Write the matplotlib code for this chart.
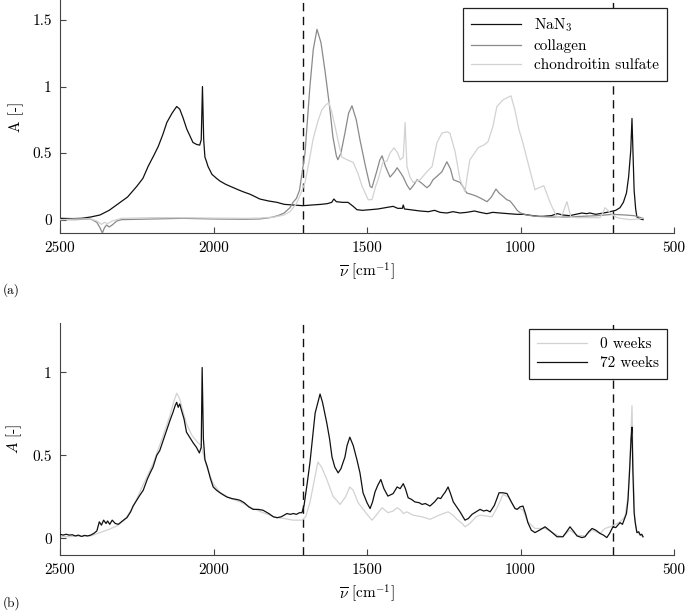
import matplotlib
matplotlib.use('Agg')
import matplotlib.pyplot as plt

# ---- panel (a): reference spectra ----
nan3_wn = [2500, 2460, 2430, 2400, 2370, 2340, 2310, 2280, 2250, 2230, 2213, 2195, 2180, 2165,
           2152, 2135, 2120, 2110, 2100, 2087, 2075, 2067, 2055, 2045, 2040, 2036, 2032, 2028,
           2022, 2018, 2005, 1990, 1979, 1960, 1940, 1920, 1904, 1880, 1849, 1820, 1793, 1770,
           1740, 1709, 1680, 1650, 1630, 1615, 1608, 1600, 1580, 1562, 1545, 1533, 1515, 1490,
           1465, 1440, 1415, 1400, 1385, 1382, 1378, 1360, 1327, 1300, 1280, 1262, 1240, 1220,
           1197, 1175, 1150, 1132, 1110, 1090, 1067, 1040, 1011, 990, 960, 940, 927, 900, 880,
           862, 840, 820, 800, 785, 774, 755, 730, 708, 690, 676, 665, 655, 648, 641, 637, 633,
           630, 625, 621, 610, 601]
nan3_a = [0.01, 0.008, 0.01, 0.02, 0.035, 0.07, 0.12, 0.17, 0.25, 0.31, 0.40, 0.48, 0.55, 0.64,
          0.73, 0.80, 0.85, 0.83, 0.77, 0.68, 0.62, 0.58, 0.565, 0.56, 0.60, 1.00, 0.60, 0.47,
          0.43, 0.40, 0.34, 0.31, 0.29, 0.265, 0.245, 0.225, 0.21, 0.19, 0.155, 0.14, 0.13, 0.115,
          0.11, 0.105, 0.11, 0.115, 0.12, 0.13, 0.155, 0.135, 0.13, 0.13, 0.10, 0.075, 0.07, 0.075,
          0.08, 0.09, 0.10, 0.085, 0.085, 0.11, 0.08, 0.075, 0.065, 0.06, 0.07, 0.055, 0.05, 0.06,
          0.05, 0.055, 0.065, 0.055, 0.045, 0.055, 0.05, 0.045, 0.04, 0.04, 0.03, 0.025, 0.025, 0.03, 0.045,
          0.035, 0.03, 0.04, 0.05, 0.045, 0.05, 0.04, 0.05, 0.06, 0.07, 0.09, 0.13, 0.20, 0.32, 0.52, 0.76, 0.45,
          0.22, 0.08, 0.02, 0.005, 0.0]

coll_wn = [2500, 2450, 2400, 2380, 2370, 2362, 2355, 2348, 2340, 2330, 2315, 2300, 2200, 2100,
           2000, 1900, 1850, 1816, 1790, 1770, 1751, 1741, 1730, 1720, 1702, 1686, 1675, 1663,
           1650, 1637, 1622, 1611, 1600, 1595, 1585, 1572, 1560, 1549, 1535, 1523, 1505, 1490,
           1484, 1470, 1458, 1451, 1440, 1425, 1410, 1402, 1390, 1382, 1370, 1360, 1348, 1337,
           1320, 1305, 1295, 1285, 1270, 1256, 1240, 1228, 1219, 1197, 1185, 1175, 1160, 1142,
           1125, 1109, 1095, 1080, 1070, 1057, 1045, 1034, 1020, 1011, 1000, 980, 950, 900, 850,
           800, 750, 700, 660, 630, 615, 601]
coll_a = [0.0, 0.0, 0.005, -0.02, -0.06, -0.10, -0.06, -0.04, -0.055, -0.04, -0.01, 0.0, 0.005, 0.01,
          0.005, 0.003, 0.005, 0.015, 0.03, 0.05, 0.09, 0.13, 0.16, 0.22, 0.50, 1.0, 1.28, 1.43,
          1.33, 1.12, 0.85, 0.62, 0.48, 0.45, 0.50, 0.65, 0.80, 0.855, 0.75, 0.60, 0.40, 0.25,
          0.24, 0.35, 0.45, 0.48, 0.40, 0.32, 0.36, 0.39, 0.35, 0.32, 0.26, 0.225, 0.26, 0.30,
          0.27, 0.24, 0.26, 0.30, 0.33, 0.36, 0.435, 0.38, 0.30, 0.28, 0.24, 0.20, 0.19, 0.175,
          0.155, 0.135, 0.17, 0.23, 0.20, 0.175, 0.15, 0.14, 0.10, 0.07, 0.05, 0.035, 0.025, 0.02, 0.02,
          0.025, 0.03, 0.04, 0.035, 0.03, 0.02, 0.01]

chon_wn = [2500, 2450, 2400, 2380, 2365, 2355, 2345, 2330, 2300, 2200, 2100, 2000, 1900, 1850,
           1800, 1770, 1751, 1730, 1715, 1702, 1690, 1676, 1660, 1647, 1635, 1624, 1614, 1604,
           1592, 1582, 1565, 1545, 1530, 1516, 1496, 1484, 1472, 1464, 1448, 1435, 1425, 1412,
           1400, 1392, 1382, 1376, 1370, 1360, 1350, 1327, 1305, 1288, 1272, 1256, 1240, 1230,
           1213, 1197, 1181, 1172, 1165, 1150, 1138, 1120, 1106, 1090, 1077, 1057, 1031, 1018,
           1005, 995, 976, 953, 940, 924, 904, 881, 870, 862, 849, 836, 816, 780, 741, 730, 725,
           715, 708, 690, 676, 643, 615, 604]
chon_a = [0.0, 0.005, 0.005, -0.01, -0.035, -0.02, -0.03, -0.01, 0.01, 0.015, 0.015, 0.012, 0.01, 0.012,
          0.02, 0.035, 0.06, 0.12, 0.20, 0.28, 0.42, 0.60, 0.74, 0.825, 0.86, 0.88, 0.80, 0.70,
          0.57, 0.47, 0.45, 0.43, 0.35, 0.25, 0.15, 0.15, 0.25, 0.30, 0.435, 0.44, 0.50, 0.54,
          0.50, 0.45, 0.47, 0.73, 0.40, 0.32, 0.28, 0.30, 0.36, 0.40, 0.58, 0.65, 0.66, 0.65,
          0.51, 0.30, 0.21, 0.35, 0.45, 0.50, 0.54, 0.56, 0.585, 0.70, 0.85, 0.90, 0.93, 0.82,
          0.675, 0.60, 0.43, 0.225, 0.24, 0.255, 0.13, 0.015, 0.02, 0.05, 0.135, 0.02, 0.015, 0.015, 0.015, 0.06, 0.09,
          0.07, 0.05, 0.02, 0.01, 0.0, 0.005, 0.01]

# ---- panel (b): 0 weeks vs 72 weeks ----
w72_wn = [2500, 2490, 2480, 2470, 2460, 2450, 2440, 2430, 2420, 2410, 2400, 2390, 2380, 2372,
          2365, 2358, 2350, 2345, 2338, 2330, 2320, 2310, 2300, 2290, 2282, 2270, 2262, 2250,
          2240, 2229, 2215, 2205, 2197, 2185, 2175, 2164, 2155, 2142, 2132, 2125, 2120, 2115,
          2110, 2104, 2096, 2088, 2078, 2066, 2056, 2046, 2040, 2037, 2033, 2028, 2020, 2010,
          2001, 1990, 1975, 1957, 1940, 1925, 1914, 1900, 1885, 1871, 1855, 1839, 1820, 1805,
          1793, 1780, 1770, 1761, 1750, 1740, 1730, 1720, 1712, 1705, 1695, 1686, 1675, 1669,
          1660, 1653, 1645, 1631, 1622, 1614, 1605, 1594, 1585, 1572, 1565, 1556, 1545, 1533,
          1523, 1513, 1500, 1490, 1482, 1474, 1465, 1455, 1445, 1432, 1415, 1402, 1392, 1382,
          1375, 1366, 1355, 1344, 1330, 1321, 1310, 1295, 1280, 1269, 1260, 1253, 1245, 1236,
          1228, 1219, 1208, 1197, 1181, 1170, 1158, 1145, 1132, 1120, 1110, 1099, 1085, 1070,
          1057, 1044, 1030, 1018, 1011, 1002, 992, 984, 976, 965, 953, 938, 920, 900, 881, 862,
          850, 839, 828, 816, 800, 790, 778, 767, 755, 741, 730, 719, 710, 699, 690, 676, 668,
          660, 655, 650, 645, 640, 637, 634, 630, 626, 621, 615, 610, 605, 601]
w72_a = [0.025, 0.02, 0.025, 0.02, 0.022, 0.015, 0.02, 0.012, 0.018, 0.015, 0.02, 0.03, 0.045, 0.10,
         0.08, 0.11, 0.09, 0.105, 0.085, 0.11, 0.09, 0.085, 0.10, 0.115, 0.125, 0.16, 0.195, 0.23,
         0.26, 0.29, 0.36, 0.40, 0.43, 0.50, 0.53, 0.59, 0.64, 0.71, 0.76, 0.80, 0.82, 0.79,
         0.81, 0.77, 0.72, 0.64, 0.61, 0.575, 0.55, 0.515, 0.55, 1.03, 0.60, 0.475, 0.43, 0.36,
         0.31, 0.29, 0.27, 0.25, 0.24, 0.235, 0.23, 0.215, 0.19, 0.175, 0.175, 0.17, 0.15, 0.13,
         0.125, 0.13, 0.14, 0.15, 0.145, 0.15, 0.145, 0.155, 0.155, 0.20, 0.33, 0.455, 0.65, 0.755,
         0.82, 0.87, 0.82, 0.695, 0.60, 0.49, 0.43, 0.395, 0.42, 0.49, 0.56, 0.61, 0.56, 0.475,
         0.395, 0.275, 0.215, 0.18, 0.22, 0.28, 0.32, 0.355, 0.30, 0.255, 0.27, 0.31, 0.30, 0.33,
         0.30, 0.245, 0.235, 0.22, 0.215, 0.205, 0.21, 0.195, 0.22, 0.245, 0.24, 0.26, 0.28, 0.31,
         0.27, 0.22, 0.19, 0.16, 0.11, 0.12, 0.145, 0.16, 0.175, 0.165, 0.17, 0.16, 0.20, 0.275,
         0.275, 0.27, 0.22, 0.18, 0.175, 0.19, 0.195, 0.15, 0.095, 0.05, 0.035, 0.05, 0.07, 0.04, 0.01, 0.01,
         0.04, 0.07, 0.045, 0.015, 0.005, 0.01, 0.04, 0.06, 0.05, 0.03, 0.02, 0.005, 0.03, 0.07, 0.065, 0.095, 0.085,
         0.125, 0.15, 0.23, 0.40, 0.60, 0.67, 0.40, 0.155, 0.09, 0.035, 0.04, 0.02, 0.025, 0.01]

w0_wn = [2500, 2450, 2400, 2370, 2340, 2315, 2290, 2262, 2230, 2197, 2164, 2142, 2130, 2120,
         2110, 2100, 2088, 2070, 2050, 2040, 2031, 2020, 2001, 1980, 1950, 1914, 1871, 1839,
         1793, 1770, 1741, 1712, 1700, 1686, 1675, 1660, 1648, 1631, 1611, 1588, 1570, 1556,
         1545, 1529, 1500, 1484, 1470, 1451, 1432, 1415, 1402, 1390, 1382, 1370, 1350, 1320,
         1295, 1265, 1236, 1220, 1207, 1190, 1181, 1165, 1145, 1132, 1110, 1093, 1075, 1057,
         1040, 1018, 1002, 992, 976, 953, 920, 900, 881, 862, 840, 816, 790, 767, 741, 725,
         708, 690, 676, 660, 650, 643, 637, 633, 628, 621, 610, 601]
w0_a = [0.01, 0.012, 0.015, 0.035, 0.055, 0.075, 0.11, 0.19, 0.32, 0.45, 0.62, 0.74, 0.82, 0.875,
        0.84, 0.77, 0.69, 0.62, 0.575, 0.56, 0.49, 0.42, 0.33, 0.28, 0.245, 0.22, 0.18, 0.155,
        0.125, 0.12, 0.11, 0.11, 0.13, 0.215, 0.32, 0.46, 0.43, 0.355, 0.255, 0.205, 0.25, 0.31,
        0.29, 0.215, 0.145, 0.11, 0.14, 0.185, 0.155, 0.165, 0.185, 0.17, 0.15, 0.16, 0.14, 0.13,
        0.115, 0.14, 0.16, 0.14, 0.115, 0.09, 0.07, 0.09, 0.13, 0.14, 0.135, 0.13, 0.19, 0.265,
        0.25, 0.18, 0.18, 0.17, 0.10, 0.06, 0.06, 0.04, 0.02, 0.01, 0.05, 0.02, 0.015, 0.05, 0.03, 0.06,
        0.07, 0.085, 0.10, 0.13, 0.25, 0.50, 0.80, 0.45, 0.12, 0.04, 0.02, 0.01]

dashed_wn = [1710, 700]
xticks = [2500, 2000, 1500, 1000, 500]

plt.rcParams['font.family'] = 'serif'
plt.rcParams['font.serif'] = ['cmr10', 'DejaVu Serif']
plt.rcParams['mathtext.fontset'] = 'cm'
plt.rcParams['axes.unicode_minus'] = False
plt.rcParams['axes.formatter.use_mathtext'] = True

fig = plt.figure(figsize=(6.85, 6.16), dpi=100)
ax_a = fig.add_axes([0.0876, 0.6218, 0.8964, 0.3782])
ax_b = fig.add_axes([0.0876, 0.0990, 0.8964, 0.3772])

c_black = '#111111'
c_mid = '#8a8a8a'
c_light = '#d2d2d2'


def style_axes(ax, ymax, yticks, ylabel):
    ax.set_xlim(2500, 500)
    ax.set_ylim(-0.1, ymax)
    ax.set_xticks(xticks)
    ax.set_xticklabels([str(t) for t in xticks])
    ax.set_yticks(yticks)
    ax.set_yticklabels(['0' if t == 0 else ('1' if t == 1 else str(t)) for t in yticks])
    for s in ['top', 'right']:
        ax.spines[s].set_visible(False)
    for s in ['left', 'bottom']:
        ax.spines[s].set_color('#444444')
        ax.spines[s].set_linewidth(0.8)
    ax.tick_params(direction='in', length=4, width=0.8, color='#444444', labelsize=11, pad=6)
    ax.set_xlabel(r'$\overline{\nu}\ [\mathrm{cm}^{-1}]$', fontsize=11, labelpad=4)
    ax.set_ylabel(ylabel, fontsize=11, labelpad=6)
    for wn in dashed_wn:
        ax.axvline(wn, color=c_black, lw=1.0, ls=(0, (6, 4)), zorder=1)


# (a)
ax_a.plot(nan3_wn, nan3_a, color=c_black, lw=0.9, label='NaN$_3$', zorder=2)
ax_a.plot(coll_wn, coll_a, color=c_mid, lw=0.9, label='collagen', zorder=3)
ax_a.plot(chon_wn, chon_a, color=c_light, lw=0.9, label='chondroitin sulfate', zorder=4)
style_axes(ax_a, 1.65, [0, 0.5, 1, 1.5], 'A [-]')
leg = ax_a.legend(loc='upper right', bbox_to_anchor=(0.9886, 0.9657), borderaxespad=0,
                  fancybox=False, fontsize=11, handlelength=3.3, labelspacing=0.35,
                  borderpad=0.55, framealpha=1)
leg.get_frame().set_edgecolor('#222222')
leg.get_frame().set_linewidth(0.9)

# (b)
ax_b.plot(w0_wn, w0_a, color=c_light, lw=0.9, label='0 weeks', zorder=2)
ax_b.plot(w72_wn, w72_a, color=c_black, lw=0.9, label='72 weeks', zorder=3)
style_axes(ax_b, 1.3, [0, 0.5, 1], '$A$ [-]')
leg = ax_b.legend(loc='upper right', bbox_to_anchor=(0.9886, 0.973), borderaxespad=0,
                  fancybox=False, fontsize=11, handlelength=3.3, labelspacing=0.35,
                  borderpad=0.55, framealpha=1)
leg.get_frame().set_edgecolor('#222222')
leg.get_frame().set_linewidth(0.9)

fig.text(0.004, 0.529, '(a)', fontsize=9.5, va='center', ha='left')
fig.text(0.004, 0.021, '(b)', fontsize=9.5, va='center', ha='left')

fig.savefig('out.png', dpi=100)
